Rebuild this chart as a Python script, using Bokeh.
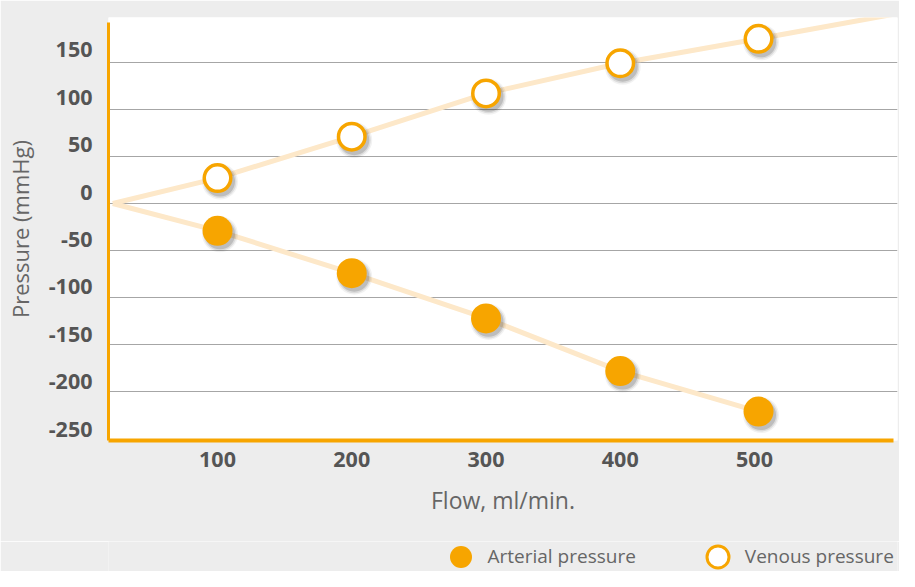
from bokeh.plotting import figure
from bokeh.layouts import column
from bokeh.models import Range1d, LinearAxis, FixedTicker, Grid, Legend, LegendItem
from bokeh.embed import file_html
from bokeh.resources import INLINE

# ---- data ----
flow = [100, 200, 300, 400, 503]
arterial = [-29, -74, -122, -178, -221]
venous = [27, 71, 117, 149, 175]
line_origin_x = 22
line_origin_y = 0
venous_tail_x = 615
venous_tail_y = 204
x_ticks = [100, 200, 300, 400, 500]
y_ticks = [150, 100, 50, 0, -50, -100, -150, -200, -250]
y_tick_labels = ["150", "100", "50", "0", "-50", "-100", "-150", "-200", "-250"]
grid_values = [150, 100, 50, 0, -50, -100, -150, -200]
series_names = ["Arterial pressure", "Venous pressure"]

ORANGE = "#F7A500"
LIGHT = "#FDE8C9"
BG = "#EDEDED"
FONT = "Open Sans"

p = figure(width=899, height=541, output_backend="svg", toolbar_location=None,
           x_range=Range1d(18.8, 606.5), y_range=Range1d(-251.7, 197.6),
           y_axis_location=None,
           min_border_left=108, min_border_right=2, min_border_top=17,
           min_border_bottom=101)
p.background_fill_color = "white"
p.border_fill_color = BG
p.outline_line_color = None
p.xgrid.visible = False

# horizontal grid
p.add_layout(Grid(dimension=1, ticker=FixedTicker(ticks=grid_values),
                  grid_line_color="#A6A6A6", grid_line_width=1))

# x axis
xa = p.xaxis[0]
xa.ticker = FixedTicker(ticks=x_ticks)
xa.bounds = (18.8, 603.5)
xa.axis_line_color = ORANGE
xa.axis_line_width = 4
xa.major_tick_line_color = None
xa.minor_tick_line_color = None
xa.major_tick_out = 0
xa.major_tick_in = 0
xa.major_label_text_font = FONT
xa.major_label_text_font_size = "21.5px"
xa.major_label_text_font_style = "bold"
xa.major_label_text_color = "#555555"
xa.major_label_standoff = 11
xa.axis_label = "Flow, ml/min."
xa.axis_label_text_font = FONT
xa.axis_label_text_font_size = "23px"
xa.axis_label_text_font_style = "normal"
xa.axis_label_text_color = "#666666"
xa.axis_label_standoff = 14

# y axis (labels sit slightly above the grid lines in the reference)
p.extra_y_ranges = {"lab": Range1d(-262.1, 184.2)}
ya = LinearAxis(y_range_name="lab", ticker=FixedTicker(ticks=y_ticks),
                bounds=(-262.1, 178.9),
                major_label_overrides=dict(zip(y_ticks, y_tick_labels)))
ya.axis_line_color = ORANGE
ya.axis_line_width = 3
ya.major_tick_line_color = None
ya.minor_tick_line_color = None
ya.major_tick_out = 0
ya.major_tick_in = 0
ya.major_label_text_font = FONT
ya.major_label_text_font_size = "21.5px"
ya.major_label_text_font_style = "bold"
ya.major_label_text_color = "#555555"
ya.major_label_standoff = 16
ya.axis_label = "Pressure (mmHg)"
ya.axis_label_text_font = FONT
ya.axis_label_text_font_size = "22px"
ya.axis_label_text_font_style = "normal"
ya.axis_label_text_color = "#666666"
ya.axis_label_standoff = 11
p.add_layout(ya, "left")

# trend lines
p.line([line_origin_x] + flow + [venous_tail_x],
       [line_origin_y] + venous + [venous_tail_y],
       line_color=LIGHT, line_width=5)
p.line([line_origin_x] + flow, [line_origin_y] + arterial,
       line_color=LIGHT, line_width=5)

# soft shadows (offset a few pixels down-right)
dx = 2.5 / 1.3425
dy = 3.5 / 0.9437
sx = [v + dx for v in flow]
for size, alpha in [(36, 0.05), (33, 0.09), (30, 0.14)]:
    p.scatter(sx, [v - dy for v in arterial], size=size, fill_color="black",
              fill_alpha=alpha, line_color=None)
    p.scatter(sx, [v - dy for v in venous], size=size, fill_color="black",
              fill_alpha=alpha, line_color=None)

p.scatter(flow, arterial, size=30, fill_color=ORANGE, line_color=None)
p.scatter(flow, venous, size=26.5, fill_color="white",
          line_color=ORANGE, line_width=3.5)

# ---- legend strip below the chart (its frame is aligned with the chart's) ----
lg = figure(width=899, height=30, output_backend="svg", toolbar_location=None,
            x_axis_location=None, y_axis_location=None,
            x_range=Range1d(0, 1), y_range=Range1d(0, 1),
            min_border_left=0, min_border_right=0, min_border_top=0,
            min_border_bottom=0)
lg.background_fill_color = BG
lg.border_fill_color = BG
lg.outline_line_color = None
lg.grid.visible = False
# key renderers reuse the series data; it lies outside this strip's range,
# so only the legend swatches show
art_key = lg.scatter(flow, arterial, size=22, fill_color=ORANGE, line_color=None)
ven_key = lg.scatter(flow, venous, size=22, fill_color="white",
                     line_color=ORANGE, line_width=3)

legend = Legend(items=[LegendItem(label=series_names[0], renderers=[art_key]),
                       LegendItem(label=series_names[1], renderers=[ven_key])],
                orientation="horizontal", location=(324.5, -12.5),
                glyph_width=55, glyph_height=55, label_standoff=0,
                spacing=54, padding=0, margin=0,
                background_fill_alpha=0, border_line_color=None,
                label_text_font=FONT, label_text_font_size="19px",
                label_text_color="#666666")
lg.add_layout(legend)

page = column(p, lg, spacing=0)
open("out.html", "w").write(file_html(page, INLINE))
